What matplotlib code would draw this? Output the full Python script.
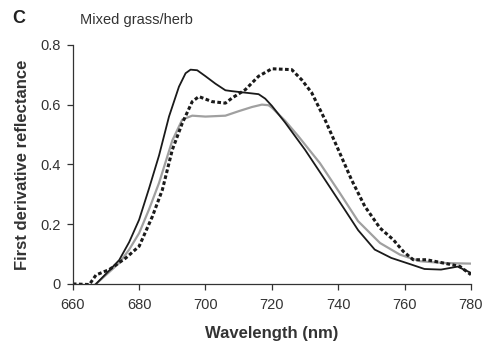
import matplotlib
matplotlib.use("Agg")
import matplotlib.pyplot as plt
import numpy as np

plt.rcParams['font.family'] = ['Liberation Sans', 'DejaVu Sans']

# Solid black series
solid_x = [667, 671, 674, 677, 680, 683, 686, 689, 692, 694, 695.5, 697.5, 700, 703, 706, 708, 712, 716, 718, 720, 724, 730, 736, 742, 746, 751, 756, 762, 766, 771, 776, 780]
solid_y = [0.0, 0.045, 0.08, 0.14, 0.215, 0.32, 0.43, 0.56, 0.66, 0.705, 0.717, 0.715, 0.695, 0.67, 0.648, 0.645, 0.64, 0.635, 0.62, 0.596, 0.54, 0.449, 0.349, 0.248, 0.18, 0.115, 0.087, 0.065, 0.05, 0.048, 0.058, 0.037]

# Gray series
gray_x = [667, 671, 674, 677, 680, 683, 686, 690, 693, 696, 700, 706, 710, 714, 717, 719, 720, 724, 728, 734.5, 740.5, 746, 752.6, 758.6, 764.7, 771.7, 780]
gray_y = [0.0, 0.04, 0.07, 0.115, 0.17, 0.25, 0.338, 0.48, 0.55, 0.563, 0.56, 0.563, 0.578, 0.592, 0.6, 0.598, 0.59, 0.546, 0.494, 0.404, 0.304, 0.21, 0.137, 0.098, 0.076, 0.07, 0.068]

# Dotted black series
dot_x = [660, 665, 667, 671, 676, 680, 684, 687, 690, 693, 696, 698, 702, 706, 708, 712, 716, 720, 726, 729, 732, 736, 740, 744, 748, 752.6, 756.6, 759.6, 762.6, 766.6, 771.7, 776.6, 780]
dot_y = [0.0, -0.002, 0.03, 0.048, 0.087, 0.126, 0.226, 0.315, 0.449, 0.538, 0.61, 0.627, 0.61, 0.605, 0.622, 0.65, 0.695, 0.72, 0.717, 0.683, 0.64, 0.55, 0.45, 0.349, 0.26, 0.187, 0.148, 0.109, 0.081, 0.081, 0.07, 0.059, 0.031]

x_ticks = [660, 680, 700, 720, 740, 760, 780]
y_ticks = [0, 0.2, 0.4, 0.6, 0.8]
y_tick_labels = ["0", "0.2", "0.4", "0.6", "0.8"]

fig = plt.figure(figsize=(4.82, 3.45), dpi=100)
ax = fig.add_axes([0.151, 0.177, 0.826, 0.693])

ax.plot(gray_x, gray_y, color='#a0a0a0', lw=1.6)
ax.plot(solid_x, solid_y, color='#1a1a1a', lw=1.3)
ax.plot(dot_x, dot_y, color='#1a1a1a', lw=2.2, linestyle=(0, (1.2, 0.8)))

ax.set_xlim(660, 780)
ax.set_ylim(0, 0.8)
ax.set_xticks(x_ticks)
ax.set_yticks(y_ticks)
ax.set_yticklabels(y_tick_labels)
for s in ['top', 'right']:
    ax.spines[s].set_visible(False)
for s in ['left', 'bottom']:
    ax.spines[s].set_color('#333333')
    ax.spines[s].set_linewidth(0.9)
ax.tick_params(axis='both', direction='out', length=4, width=0.9, colors='#333333',
               labelsize=10.5, labelcolor='#333333')
ax.tick_params(axis='x', pad=6)
ax.tick_params(axis='y', pad=5)

ax.set_xlabel('Wavelength (nm)', fontsize=12, fontweight='bold', color='#333333', labelpad=10)
ax.set_ylabel('First derivative reflectance', fontsize=12, fontweight='bold', color='#333333', labelpad=7)

fig.text(0.025, 0.945, 'C', fontsize=13, fontweight='bold', color='#222222', va='center')
fig.text(0.166, 0.942, 'Mixed grass/herb', fontsize=10.5, color='#333333', va='center')

fig.savefig('out.png', dpi=100)
